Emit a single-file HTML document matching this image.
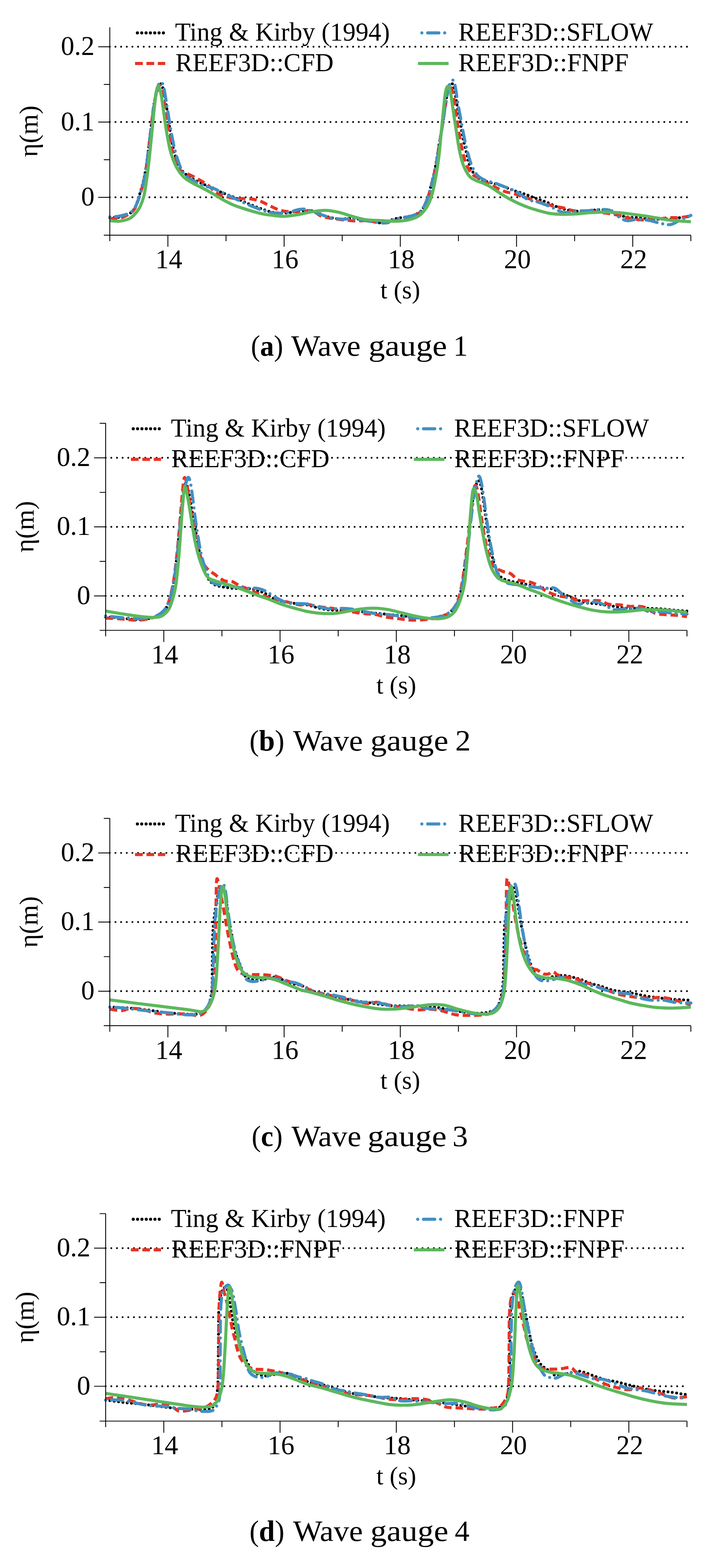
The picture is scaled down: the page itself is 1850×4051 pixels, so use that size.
<!DOCTYPE html><html><head><meta charset="utf-8"><title>Wave gauges</title><style>html,body{margin:0;padding:0;background:#fff}svg{display:block}</style></head><body>
<svg width="1850" height="4051" viewBox="0 0 1850 4051">
<rect width="100%" height="100%" fill="#fff"/>
<g id="plot1">
<line x1="283.7" y1="509.8" x2="1785" y2="509.8" stroke="#000" stroke-width="4.9" stroke-linecap="round" stroke-dasharray="0 14.62"/>
<line x1="283.7" y1="315.3" x2="1785" y2="315.3" stroke="#000" stroke-width="4.9" stroke-linecap="round" stroke-dasharray="0 14.62"/>
<line x1="283.7" y1="120.8" x2="1785" y2="120.8" stroke="#000" stroke-width="4.9" stroke-linecap="round" stroke-dasharray="0 14.62"/>
<path d="M283.7,562.3C287.8,562.1 300.1,562.8 308.5,561.1C316.9,559.5 327.4,556.2 334,552.2C340.6,548.2 344,544.7 348.3,537C352.5,529.4 355.9,517.4 359.5,506.3C363.1,495.2 366.7,482.8 369.7,470.5C372.7,458.2 375,447.2 377.4,432.4C379.7,417.5 381.7,398.4 383.8,381.4C386,364.4 388,347.3 390.1,330.3C392.2,313.3 394.2,294.1 396.4,279.3C398.7,264.5 401,251.6 403.8,241.4C406.6,231.2 410.6,221.3 413.1,218.1C415.6,214.8 416.9,217.4 418.8,221.9C420.8,226.5 422.8,235.7 424.8,245.3C426.8,254.8 428.6,265.2 430.8,279.3C433.1,293.5 435.6,313.3 438.3,330.3C441.1,347.3 443.5,365.3 447.3,381.4C451.2,397.6 456.7,416.1 461.6,427.1C466.5,438.2 470.5,441.6 476.9,447.6C483.3,453.6 491.8,458.4 499.9,463.1C508,467.8 516.9,472 525.4,475.8C533.9,479.6 543.5,482.5 550.9,485.9C558.4,489.2 561.1,492.1 570,496C578.9,499.9 592.7,504.6 604.1,509.4C615.4,514.2 626.7,519.9 638,524.8C649.3,529.6 660.8,534.4 672.1,538.4C683.4,542.4 694.7,546.7 706,548.7C717.4,550.7 728.8,550.8 740.1,550.3C751.4,549.7 762.8,546 774,545.2C785.3,544.4 796.3,542.9 807.7,545.2C819,547.5 830.8,555.4 842.2,558.8C853.6,562.2 864.7,564.7 876,565.6C887.2,566.5 898.4,563.5 909.7,564.1C921.1,564.6 934.3,567.3 944.3,568.9C954.3,570.6 962.5,572.9 969.8,574C977.1,575 979.7,576.6 988.3,575.2C996.9,573.7 1010.8,567.6 1021.4,565C1032.1,562.5 1043.6,561.7 1052.1,560C1060.6,558.3 1066.1,557.7 1072.5,554.7C1078.9,551.7 1084.8,549.7 1090.3,542.1C1095.9,534.4 1101.4,520.8 1105.7,508.8C1109.9,496.9 1112.7,483.3 1115.9,470.5C1119,457.8 1122.2,445.1 1124.7,432.4C1127.3,419.6 1129.1,406.8 1131.2,394.1C1133.3,381.3 1135.4,368.5 1137.5,355.8C1139.6,343 1141.6,332.5 1143.9,317.6C1146.3,302.8 1149.1,281.4 1151.5,266.5C1153.8,251.6 1155.8,236.9 1157.9,228.4C1160.1,219.9 1162.4,217.2 1164.4,215.5C1166.3,213.8 1167.6,213.8 1169.5,218.1C1171.4,222.3 1173.7,230.8 1175.8,241C1177.9,251.2 1179.8,266.5 1182.1,279.3C1184.4,292.1 1187.4,304.9 1189.7,317.6C1192.1,330.4 1193.6,343 1196.2,355.8C1198.7,368.5 1201.9,381.3 1205,394.1C1208.2,406.8 1211,422.2 1215.3,432.4C1219.5,442.6 1224.8,449.6 1230.6,455.3C1236.3,461.1 1242,463.8 1249.9,467C1257.9,470.2 1270.2,472.1 1278.3,474.4C1286.4,476.7 1290.9,478.1 1298.6,480.8C1306.2,483.6 1315.2,487.7 1324.1,490.9C1333,494.1 1343.7,497.1 1352.2,500.1C1360.7,503.1 1368.3,506.3 1375.1,508.8C1382,511.4 1386.8,512.9 1393.2,515.2C1399.6,517.6 1405.9,519.7 1413.6,522.8C1421.2,526 1430.6,531.1 1439.1,534.3C1447.6,537.5 1455.1,540.1 1464.5,542.1C1473.8,544 1484.1,545.8 1495.2,546C1506.4,546.2 1523.3,543.9 1531.3,543.3C1539.3,542.6 1536,541.9 1543.3,541.9C1550.5,541.9 1565.6,541.1 1574.8,543.1C1584.1,545 1591.3,550.8 1598.8,553.8C1606.3,556.7 1611.6,559.6 1619.9,561C1628.1,562.3 1637.2,561.3 1648.4,562.1C1659.5,562.9 1672.4,565 1686.7,565.6C1701,566.2 1722.4,566.2 1734.3,565.6C1746.1,565 1749.5,563.5 1758,562.1C1766.4,560.8 1780.5,558.2 1785,557.5" fill="none" stroke="#000" stroke-width="7.5" stroke-linecap="round" stroke-dasharray="0 11.2"/>
<path d="M283.7,564.3C287.8,564.3 300.1,566.2 308.5,564.3C316.9,562.3 327.4,556.8 334,552.6C340.6,548.4 344,546.1 348.3,539C352.5,531.8 355.9,520.5 359.5,509.8C363.1,499.1 366.7,487.1 369.7,474.8C372.7,462.5 375,450.8 377.4,435.9C379.7,421 381.7,402.5 383.8,385.3C386,368.1 388,350.3 390.1,332.8C392.2,315.3 394.2,295.5 396.4,280.3C398.7,265.1 401.3,251.1 403.8,241.4C406.3,231.7 409.3,224.5 411.3,221.9C413.3,219.3 414.1,221 415.8,225.8C417.6,230.7 419.8,241.1 421.8,251.1C423.8,261.2 425.8,273.2 427.8,286.1C429.8,299.1 431.3,313 433.8,328.9C436.3,344.8 439.1,365.9 442.8,381.4C446.6,397 451.6,411.6 456.3,422.3C461.1,433 466.4,441 471.4,445.6C476.4,450.3 479.9,447.4 486.4,450.1C492.9,452.8 502.1,457.4 510.4,462C518.7,466.5 527.5,471.3 535.9,477.5C544.3,483.7 552.4,494 560.7,499.1C568.9,504.2 577.1,505.7 585.5,508C593.8,510.4 601.7,512.5 611,513.3C620.2,514.1 631.3,512 641,512.9C650.8,513.8 660.4,515.5 669.5,518.6C678.7,521.6 687,526.9 695.8,531C704.6,535.1 713.7,540.2 722.1,542.9C730.5,545.5 736.6,546.1 746.1,546.8C755.6,547.4 768.9,547 779.1,546.8C789.4,546.5 798.9,543.2 807.7,545.2C816.4,547.2 821.7,555.4 831.7,558.8C841.7,562.2 853.9,563.6 867.7,565.6C881.5,567.6 901.5,569.9 914.2,570.7C927,571.4 934.3,569.5 944.3,570.1C954.3,570.6 965.5,573 974.3,574C983.1,575 989,576.6 996.8,575.9C1004.7,575.3 1012.2,572.4 1021.4,570.1C1030.6,567.8 1043.6,564.6 1052.1,562.3C1060.6,560 1066.1,559.7 1072.5,556.5C1078.9,553.2 1084.8,550.6 1090.3,542.9C1095.9,535.1 1101.4,521.5 1105.7,509.8C1109.9,498.1 1112.7,485.2 1115.9,472.8C1119,460.5 1122.2,448.5 1124.7,435.9C1127.3,423.2 1129.1,410 1131.2,397C1133.3,384 1135.4,371.1 1137.5,358.1C1139.6,345.1 1141.6,334.1 1143.9,319.2C1146.3,304.3 1149.1,282.9 1151.5,268.6C1153.8,254.4 1155.9,241.1 1157.9,233.6C1159.9,226.2 1161.5,223.2 1163.5,223.9C1165.4,224.5 1167.5,229.4 1169.5,237.5C1171.5,245.6 1173.5,259.5 1175.5,272.5C1177.5,285.5 1179.2,300.7 1181.5,315.3C1183.7,329.9 1186.2,345.4 1189,360C1191.7,374.6 1194.7,390.8 1198,402.8C1201.2,414.8 1204.5,423.9 1208.5,432C1212.5,440.1 1216.8,446.6 1222,451.5C1227.3,456.3 1232.8,457 1240,461.2C1247.3,465.4 1255,471.2 1265.6,476.7C1276.1,482.2 1292.8,490.4 1303.1,494.2C1313.3,498.1 1319.3,497.8 1327.1,500.1C1334.9,502.3 1338.6,504.3 1349.6,507.9C1360.6,511.4 1380.6,517.6 1393.2,521.5C1405.7,525.4 1414.4,528.6 1424.7,531.2C1434.9,533.8 1444.7,534.8 1454.7,537C1464.7,539.3 1474.7,543.5 1484.7,544.8C1494.7,546.1 1502.3,544 1514.8,544.8C1527.3,545.6 1547.3,548.1 1559.8,549.7C1572.3,551.3 1579.8,552.4 1589.8,554.5C1599.8,556.6 1608.6,560 1619.9,562.3C1631.1,564.6 1644.9,567.5 1657.4,568.1C1669.9,568.8 1682.4,567.2 1694.9,566.2C1707.4,565.2 1722.4,563 1732.5,562.3C1742.5,561.7 1746.2,563 1755,562.3C1763.7,561.7 1780,559.1 1785,558.4" fill="none" stroke="#e93323" stroke-width="8" stroke-dasharray="19.5 10"/>
<path d="M283.7,560.4C287.8,560 300.1,560 308.5,558.4C316.9,556.8 327.4,554.2 334,550.6C340.6,547.1 344,543.8 348.3,537C352.5,530.2 355.9,520.2 359.5,509.8C363.1,499.4 366.7,486.8 369.7,474.8C372.7,462.8 375,452.4 377.4,437.8C379.7,423.2 381.7,404.4 383.8,387.3C386,370.1 388,352.3 390.1,334.8C392.2,317.2 394.2,298.4 396.4,282.2C398.7,266 401.3,248.5 403.8,237.5C406.3,226.5 408.9,220.2 411.3,216.1C413.7,212 416.2,211 418.2,213C420.2,214.9 421.5,219.8 423.3,227.8C425.2,235.7 427.3,248.8 429.3,260.8C431.3,272.8 433.1,285.8 435.3,299.7C437.6,313.7 440.1,329.9 442.8,344.5C445.6,359.1 448.3,373.6 451.8,387.3C455.3,400.9 459.6,415.5 463.9,426.2C468.1,436.9 471.4,444.6 477.4,451.5C483.4,458.3 492.1,462.5 499.9,467C507.6,471.5 515.4,475.4 523.9,478.7C532.4,481.9 543.2,483.7 550.9,486.5C558.6,489.2 561.1,491 570,495.2C578.9,499.4 592.7,506.4 604.1,511.7C615.4,517.1 626.7,522.4 638,527.3C649.3,532.2 660.8,537.2 672.1,540.9C683.4,544.6 694.7,548.2 706,549.7C717.4,551.1 728.8,551.1 740.1,549.7C751.4,548.2 765,542.2 774,540.9C783,539.6 785.8,539.9 794.1,541.9C802.5,543.8 814.2,549.2 824.2,552.6C834.2,556 844.2,560 854.2,562.3C864.2,564.6 875,565.7 884.2,566.2C893.5,566.7 899.7,564.6 909.7,565.2C919.8,565.9 933.5,568.6 944.3,570.1C955,571.6 965.5,573 974.3,574C983.1,575 989,577.2 996.8,575.9C1004.7,574.6 1012.2,568.8 1021.4,566.2C1030.6,563.6 1043.6,562.3 1052.1,560.4C1060.6,558.4 1066.1,557.6 1072.5,554.5C1078.9,551.5 1084.8,549.5 1090.3,542.1C1095.9,534.6 1101.4,521 1105.7,509.8C1109.9,498.6 1112.7,486.5 1115.9,474.8C1119,463.1 1122.2,452.1 1124.7,439.8C1127.3,427.5 1129.1,414.2 1131.2,400.9C1133.3,387.6 1135.4,373.7 1137.5,360C1139.6,346.4 1141.6,334.8 1143.9,319.2C1146.3,303.6 1148.9,281.9 1151.5,266.7C1154,251.4 1156.7,236.9 1159,227.8C1161.2,218.7 1162.8,215.5 1165,212.2C1167.1,208.9 1169.9,205.3 1171.9,207.9C1173.9,210.5 1175.1,218 1177,227.8C1178.8,237.6 1180.7,253.4 1183,266.7C1185.2,280 1188,293.9 1190.5,307.5C1193,321.1 1195.2,334.8 1198,348.4C1200.7,362 1203.5,375.9 1207,389.2C1210.5,402.5 1214.5,417.4 1219,428.1C1223.5,438.8 1228.5,447.2 1234,453.4C1239.5,459.6 1244.7,461.8 1252,465.1C1259.4,468.3 1270.6,470.3 1278.3,472.8C1286.1,475.4 1290.9,477.7 1298.6,480.6C1306.2,483.5 1316.8,487.1 1324.1,490.4C1331.4,493.6 1335.4,495.9 1342.1,500.1C1348.9,504.3 1355.9,511.7 1364.6,515.6C1373.4,519.5 1384.7,520.2 1394.7,523.4C1404.7,526.7 1414.7,530.9 1424.7,535.1C1434.7,539.3 1444.7,546.8 1454.7,548.7C1464.7,550.6 1473.9,547.5 1484.7,546.8C1495.6,546 1510.3,545 1520,544.2C1529.8,543.4 1534.2,542.1 1543.3,541.9C1552.4,541.7 1565.6,540 1574.8,543.1C1584.1,546.1 1591.3,555.9 1598.8,560.4C1606.3,564.9 1611.6,569.1 1619.9,570.1C1628.1,571.1 1638.4,566.2 1648.4,566.2C1658.4,566.2 1669.7,568.2 1679.9,570.1C1690.2,572 1700.9,576.3 1709.9,577.9C1719,579.5 1726.2,581.4 1734.3,579.8C1742.3,578.2 1749.5,572 1758,568.1C1766.4,564.3 1780.5,558.4 1785,556.5" fill="none" stroke="#428fc4" stroke-width="8" stroke-linecap="round" stroke-dasharray="0 15 29 15"/>
<path d="M283.7,570.1C287.8,570.3 300.1,572.3 308.5,571.5C316.9,570.6 327.2,568.2 334,565C340.8,561.8 344.7,557.3 349.3,552.2C353.9,547.1 357.9,542.3 361.8,534.3C365.6,526.3 369.3,516.7 372.3,504C375.3,491.2 377.3,476.2 379.8,457.9C382.3,439.6 384.8,417.4 387.3,394.1C389.8,370.7 392.4,341 394.8,317.6C397.2,294.3 399.4,269.6 401.6,253.8C403.8,238.1 405.7,225.2 408,223.1C410.4,221 413.1,229.5 415.7,241C418.2,252.5 420.8,275 423.3,292C425.8,308.9 427.8,325.9 430.8,342.9C433.8,359.9 437.1,379.2 441.3,394.1C445.6,409 450.6,421.7 456.3,432.4C462.1,443.1 468.1,451.2 475.6,458.3C483,465.3 492.6,469.9 501.1,474.8C509.6,479.7 518.1,483.2 526.6,487.6C535.1,492.1 543.6,496.7 552.1,501.6C560.6,506.5 569.1,512.3 577.7,517C586.2,521.7 594.6,526 603.2,529.6C611.7,533.2 620.5,535.8 629,538.6C637.5,541.4 645.6,544 654.1,546.4C662.5,548.7 671.1,551.1 679.6,552.8C688.1,554.5 696.6,555.4 705.1,556.5C713.6,557.5 723.3,558.8 730.6,559C738,559.2 741.9,558.3 749.1,557.5C756.3,556.6 764.3,555.5 774,553.8C783.8,552 796.3,548.5 807.7,546.8C819,545 830.8,543.1 842.2,543.4C853.6,543.8 864.7,546.1 876,548.7C887.2,551.3 898.4,555.7 909.7,558.8C921.1,561.9 931.2,565.5 944.3,567.4C957.4,569.3 974.5,569.4 988.3,570.1C1002,570.8 1015.1,571.9 1026.5,571.5C1038,571 1047.8,569.9 1057.2,567.6C1066.5,565.2 1075,562.8 1082.7,557.3C1090.3,551.7 1097.6,543.2 1103.1,534.3C1108.6,525.4 1112.1,516.5 1115.9,503.8C1119.7,491 1123,474 1125.9,457.9C1128.9,441.7 1131.4,425.9 1133.7,406.7C1136.1,387.6 1137.9,364.2 1140,342.9C1142.1,321.7 1144.4,297.1 1146.3,279.3C1148.2,261.5 1149.5,245.3 1151.5,235.9C1153.4,226.6 1155.8,222.3 1157.9,223.1C1160.1,223.9 1162,229.5 1164.4,241C1166.7,252.5 1169.3,275 1171.9,292C1174.4,308.9 1177.1,326.7 1179.7,342.9C1182.2,359.1 1184.2,375 1187.2,389C1190.1,403.1 1193.1,416.1 1197.4,427.1C1201.7,438.2 1207.3,448.8 1212.9,455.3C1218.4,461.9 1224.8,463.7 1230.6,466.6C1236.3,469.5 1241.7,470.3 1247.5,472.8C1253.4,475.3 1258.3,477.3 1265.6,481.6C1272.8,485.9 1282.6,493.3 1291.1,498.7C1299.6,504.1 1308.1,509.4 1316.6,514.1C1325.1,518.7 1333.6,522.9 1342.1,526.7C1350.6,530.5 1359.1,533.9 1367.6,536.8C1376.1,539.8 1384.7,542.2 1393.2,544.6C1401.7,547 1410.2,549.5 1418.7,551C1427.2,552.5 1435.7,553.1 1444.2,553.6C1452.7,554 1461.2,553.8 1469.7,553.6C1478.2,553.3 1486.9,552.8 1495.2,552.2C1503.6,551.6 1510,550.4 1520,549.7C1530,549 1543.4,548 1555.3,547.9C1567.2,547.8 1579.4,548.3 1591.3,549.1C1603.3,549.9 1615.1,551.2 1627.1,552.6C1639,554 1651,555.7 1662.9,557.5C1674.9,559.2 1686.8,561.3 1698.7,563.3C1710.6,565.3 1719.9,567.7 1734.3,569.3C1748.6,570.9 1776.5,572.2 1785,572.8" fill="none" stroke="#5cb85c" stroke-width="8" stroke-linejoin="round"/>
<path d="M283.7,70.5 V607.6 H1785" fill="none" stroke="#000" stroke-width="2.2"/>
<path d="M268.2,607.6H283.7M268.2,412.6H283.7M268.2,218.1H283.7M253.7,509.8H283.7M253.7,315.3H283.7M253.7,120.8H283.7M283.7,607.6V623.1M433.8,607.6V637.6M584,607.6V623.1M734.1,607.6V637.6M884.2,607.6V623.1M1034.3,607.6V637.6M1184.5,607.6V623.1M1334.6,607.6V637.6M1484.7,607.6V623.1M1634.9,607.6V637.6M1785,607.6V623.1" fill="none" stroke="#000" stroke-width="2.2"/>
<g font-family="'Liberation Serif', serif" font-size="66.5" fill="#000">
<text x="244.2" y="142" text-anchor="end" font-size="69.5">0.2</text>
<text x="244.2" y="336.5" text-anchor="end" font-size="69.5">0.1</text>
<text x="244.2" y="531" text-anchor="end" font-size="69.5">0</text>
<text x="436.2" y="693.2" text-anchor="middle" font-size="69.5">14</text>
<text x="736.5" y="693.2" text-anchor="middle" font-size="69.5">16</text>
<text x="1036.8" y="693.2" text-anchor="middle" font-size="69.5">18</text>
<text x="1337" y="693.2" text-anchor="middle" font-size="69.5">20</text>
<text x="1637.3" y="693.2" text-anchor="middle" font-size="69.5">22</text>
<text x="1034.3" y="770.8" text-anchor="middle" font-size="65">t (s)</text>
<text transform="translate(97.4,339.1) rotate(-90)" text-anchor="middle" font-size="67.8">η(m)</text>
<line x1="355" y1="85" x2="422.7" y2="85" stroke="#000" stroke-width="8" stroke-linecap="round" stroke-dasharray="0 11.2"/>
<line x1="348.9" y1="164" x2="426.9" y2="164" stroke="#e93323" stroke-width="8" stroke-dasharray="20 9.5"/>
<line x1="1090" y1="85" x2="1150" y2="85" stroke="#428fc4" stroke-width="8" stroke-linecap="round" stroke-dasharray="0 15 29 15"/>
<line x1="1080" y1="164" x2="1159" y2="164" stroke="#5cb85c" stroke-width="8"/>
<text x="452.2" y="105.1" font-size="68" textLength="555.1" lengthAdjust="spacingAndGlyphs">Ting &amp; Kirby (1994)</text>
<text x="453.2" y="183.7" font-size="68" textLength="408.8" lengthAdjust="spacingAndGlyphs">REEF3D::CFD</text>
<text x="1184.3" y="105.1" font-size="68" textLength="503.3" lengthAdjust="spacingAndGlyphs">REEF3D::SFLOW</text>
<text x="1184.3" y="183.7" font-size="68" textLength="440.0" lengthAdjust="spacingAndGlyphs">REEF3D::FNPF</text>
</g>
<text x="648.2" y="918.5" font-family="'Liberation Serif', serif" font-size="77" textLength="83.5" lengthAdjust="spacingAndGlyphs">(<tspan font-weight="bold">a</tspan>)</text>
<text x="752.2" y="918.5" font-family="'Liberation Serif', serif" font-size="77" textLength="179.4" lengthAdjust="spacingAndGlyphs">Wave</text>
<text x="952.2" y="918.5" font-family="'Liberation Serif', serif" font-size="77" textLength="202.9" lengthAdjust="spacingAndGlyphs">gauge</text>
<text x="1171.2" y="918.5" font-family="'Liberation Serif', serif" font-size="77" textLength="37.5" lengthAdjust="spacingAndGlyphs">1</text>
</g>
<g id="plot2">
<line x1="273" y1="1539.6" x2="1775" y2="1539.6" stroke="#000" stroke-width="4.9" stroke-linecap="round" stroke-dasharray="0 14.62"/>
<line x1="273" y1="1361.2" x2="1775" y2="1361.2" stroke="#000" stroke-width="4.9" stroke-linecap="round" stroke-dasharray="0 14.62"/>
<line x1="273" y1="1182.8" x2="1775" y2="1182.8" stroke="#000" stroke-width="4.9" stroke-linecap="round" stroke-dasharray="0 14.62"/>
<path d="M273,1594C278.7,1594.4 292.8,1595 306.9,1596.2C321.1,1597.3 343.9,1601 358,1601C372.1,1601 382,1598.7 391.7,1596.2C401.3,1593.6 408.8,1591.1 415.7,1585.6C422.5,1580.2 427.7,1575.1 432.8,1563.5C437.9,1551.9 442.8,1533.4 446.5,1515.9C450.1,1498.3 452.2,1479 454.7,1458.1C457.3,1437.1 459.5,1412.8 461.8,1390.1C464.1,1367.4 466,1343.5 468.3,1322C470.5,1300.4 473,1272.7 475.3,1260.8C477.6,1248.9 479.7,1246 482.2,1250.6C484.8,1255.1 487.8,1273.3 490.6,1288.1C493.5,1302.8 496.4,1323.2 499.2,1339.1C502,1355 504.5,1366.9 507.6,1383.3C510.7,1399.8 513.8,1421.3 517.8,1437.7C521.8,1454.2 525.8,1470.1 531.5,1482C537.2,1493.9 541.2,1502.9 551.9,1509.1C562.7,1515.3 580.2,1517.3 596.1,1519.3C611.9,1521.3 636.3,1520.2 647,1521C657.7,1521.9 653.9,1522.3 660.1,1524.3C666.2,1526.2 675.3,1528.7 683.8,1532.6C692.3,1536.6 700.9,1544 711.1,1548C721.3,1552 734.9,1554.6 745.1,1556.5C755.3,1558.5 763.8,1558.8 772.3,1559.9C780.8,1561.1 788.2,1561.6 796.1,1563.3C804.1,1565 811.2,1568.1 819.7,1570.1C828.2,1572.1 838.1,1574.2 847.1,1575.3C856.1,1576.4 864.2,1576.6 873.8,1576.9C883.4,1577.2 895.1,1576.3 904.9,1576.9C914.7,1577.5 922.2,1579.1 932.4,1580.3C942.6,1581.4 954.9,1582.5 966.2,1583.7C977.4,1584.8 988.6,1585.9 1000,1587.1C1011.4,1588.2 1024.5,1589.4 1034.5,1590.4C1044.5,1591.5 1048.8,1591.9 1060,1593.1C1071.3,1594.3 1089.4,1597.7 1102.1,1597.6C1114.8,1597.5 1127,1594.4 1136,1592.4C1145.1,1590.4 1149.9,1589.3 1156.2,1585.6C1162.4,1581.9 1168.3,1577.4 1173.4,1570.3C1178.6,1563.2 1183,1556.2 1187,1543.2C1190.9,1530.1 1194.3,1509.2 1197.2,1492.1C1200,1475.1 1201.8,1458.1 1204.1,1441.1C1206.4,1424.1 1208.6,1408.8 1210.8,1390.1C1213.1,1371.4 1215.3,1348.6 1217.6,1328.7C1219.9,1308.9 1221.7,1285.1 1224.5,1270.9C1227.4,1256.8 1231.9,1247.2 1234.7,1243.8C1237.6,1240.4 1239.2,1243.2 1241.5,1250.6C1243.7,1258 1246,1273.9 1248.2,1288.1C1250.5,1302.2 1252.7,1319.6 1255,1335.5C1257.3,1351.4 1259.4,1367.4 1261.9,1383.3C1264.5,1399.2 1266.9,1416.2 1270.3,1431C1273.7,1445.7 1278.1,1461.4 1282.3,1471.6C1286.6,1481.8 1289.1,1487 1295.9,1492.1C1302.6,1497.3 1312.7,1499.5 1322.9,1502.3C1333.1,1505.1 1346,1506.6 1357.1,1509.1C1368.3,1511.6 1378.9,1515.5 1390,1517.5C1401.2,1519.4 1415.5,1519.2 1424,1520.9C1432.5,1522.6 1435.4,1525.1 1441.1,1527.6C1446.8,1530.2 1450.7,1532.9 1458.1,1536C1465.4,1539.2 1476.8,1543 1485.3,1546.4C1493.8,1549.8 1499.5,1554.3 1509.1,1556.5C1518.8,1558.8 1534,1558.8 1543.1,1559.9C1552.2,1561.1 1556.2,1562.2 1563.5,1563.3C1570.9,1564.5 1578.2,1565.4 1587.2,1566.7C1596.3,1568 1608.3,1570.3 1617.9,1571.2C1627.5,1572 1634.9,1571.6 1645.1,1571.7C1655.2,1571.8 1667.5,1571.4 1678.9,1571.7C1690.2,1572 1701.7,1572.6 1713.1,1573.5C1724.5,1574.4 1736.9,1576 1747.2,1576.9C1757.5,1577.8 1770.4,1578.5 1775,1578.8" fill="none" stroke="#000" stroke-width="7.5" stroke-linecap="round" stroke-dasharray="0 11.2"/>
<path d="M273,1596.7C278.7,1597 292.8,1597.6 306.9,1598.5C321.1,1599.4 343.9,1602.3 358,1602C372.1,1601.7 382,1599.4 391.7,1596.7C401.3,1594 408.8,1591.6 415.7,1586C422.5,1580.3 427.7,1575 432.8,1562.8C437.9,1550.6 442.8,1531 446.5,1512.8C450.1,1494.7 452.2,1475.4 454.7,1454C457.3,1432.6 459.5,1408.8 461.8,1384.4C464.1,1360 466.2,1330.9 468.3,1307.7C470.3,1284.5 472.6,1257.4 474.3,1245.2C475.9,1233 476.5,1233 478,1234.5C479.5,1236 481.4,1244.3 483.3,1254.2C485.2,1264 487,1278.5 489.3,1293.4C491.5,1308.3 494,1327 496.8,1343.4C499.6,1359.7 502.6,1376.7 505.8,1391.5C509.1,1406.4 512.1,1420.4 516.3,1432.6C520.6,1444.8 524.8,1456 531.3,1464.7C537.9,1473.3 547.4,1478.3 555.4,1484.3C563.4,1490.2 572.1,1497.4 579.4,1500.4C586.7,1503.3 592.4,1500.1 598.9,1502.1C605.4,1504.2 611.5,1509.6 618.5,1512.8C625.5,1516.1 634.1,1518.8 641,1521.8C647.9,1524.7 651.3,1527.1 660.1,1530.7C668.8,1534.2 683,1539.9 693.6,1543.2C704.1,1546.4 714.1,1547.9 723.6,1550.3C733.1,1552.7 741.9,1555.4 750.6,1557.4C759.4,1559.5 769.4,1562.2 776.2,1562.8C782.9,1563.4 782.4,1560.1 791.2,1561C800,1561.9 817.5,1566.4 828.7,1568.1C840,1569.9 848.8,1570.2 858.8,1571.7C868.8,1573.2 878.8,1575.3 888.8,1577.1C898.8,1578.8 908.8,1580.9 918.9,1582.4C928.9,1583.9 940.1,1585.1 948.9,1586C957.7,1586.9 962.7,1586.3 971.4,1587.8C980.2,1589.3 991.5,1593.1 1001.5,1594.9C1011.5,1596.7 1021.7,1597.3 1031.5,1598.5C1041.3,1599.7 1048.3,1601.7 1060,1602C1071.8,1602.3 1089.4,1601.4 1102.1,1600.3C1114.8,1599.1 1127,1597.3 1136,1594.9C1145.1,1592.5 1149.9,1590.1 1156.2,1586C1162.4,1581.8 1168.3,1577.7 1173.4,1569.9C1178.6,1562.2 1183,1553.6 1187,1539.6C1190.9,1525.6 1194.3,1503.9 1197.2,1486.1C1200,1468.2 1201.8,1450.4 1204.1,1432.6C1206.4,1414.7 1208.6,1398.4 1210.8,1379C1213.1,1359.7 1215.5,1335 1217.6,1316.6C1219.8,1298.2 1222.1,1278.8 1223.8,1268.4C1225.5,1258 1226.3,1255.1 1227.8,1254.2C1229.3,1253.3 1231,1255.6 1232.8,1263.1C1234.6,1270.5 1236.8,1285.4 1238.8,1298.8C1240.8,1312.1 1242.5,1328.5 1244.8,1343.4C1247,1358.2 1249.6,1374 1252.3,1388C1255.1,1401.9 1258.1,1415.9 1261.3,1427.2C1264.6,1438.5 1268.3,1448.9 1271.8,1455.8C1275.3,1462.6 1277.3,1464.7 1282.3,1468.2C1287.4,1471.8 1295.6,1474.8 1301.9,1477.2C1308.1,1479.5 1313.6,1478.9 1319.9,1482.5C1326.2,1486.1 1331.2,1495 1339.4,1498.6C1347.7,1502.1 1361,1501.5 1369.5,1503.9C1377.9,1506.3 1382.5,1508.7 1390,1512.8C1397.5,1517 1405.4,1524.4 1414.5,1528.9C1423.6,1533.4 1434.5,1537.2 1444.6,1539.6C1454.6,1542 1467.1,1541.4 1474.6,1543.2C1482.1,1545 1482.1,1548.8 1489.6,1550.3C1497.1,1551.8 1509.6,1551.8 1519.7,1552.1C1529.7,1552.4 1540.9,1550.6 1549.7,1552.1C1558.5,1553.6 1563.5,1559.2 1572.2,1561C1581,1562.8 1593.5,1561.9 1602.3,1562.8C1611,1563.7 1614.8,1565.5 1624.8,1566.4C1634.8,1567.3 1651.1,1565.2 1662.3,1568.1C1673.6,1571.1 1683.1,1580.9 1692.4,1584.2C1701.7,1587.5 1708.7,1586.9 1717.9,1587.8C1727.2,1588.7 1738.5,1588.7 1748,1589.6C1757.5,1590.4 1770.5,1592.5 1775,1593.1" fill="none" stroke="#e93323" stroke-width="8" stroke-dasharray="19.5 10"/>
<path d="M273,1591.3C278.7,1591.9 292.8,1593.7 306.9,1594.9C321.1,1596.1 343.9,1598.5 358,1598.5C372.1,1598.5 382,1597.3 391.7,1594.9C401.3,1592.5 408.8,1589.6 415.7,1584.2C422.5,1578.8 427.7,1573.8 432.8,1562.8C437.9,1551.8 442.8,1534.8 446.5,1518.2C450.1,1501.5 452.2,1483.1 454.7,1462.9C457.3,1442.7 459.5,1419.2 461.8,1396.9C464.1,1374.6 465.9,1350.5 468.3,1329.1C470.6,1307.7 473.3,1283.3 475.8,1268.4C478.3,1253.6 481.4,1245.7 483.3,1239.9C485.2,1234.1 485.8,1232.2 487.3,1233.6C488.8,1235.1 490.5,1239.4 492.3,1248.8C494.1,1258.2 496.3,1275 498.3,1289.8C500.3,1304.7 502.1,1321.7 504.3,1338C506.6,1354.4 509.1,1371.6 511.8,1388C514.6,1404.3 517.3,1421.6 520.8,1436.1C524.3,1450.7 528.8,1464.7 532.8,1475.4C536.9,1486.1 540.6,1494.7 544.9,1500.4C549.1,1506 552.6,1507.2 558.4,1509.3C564.1,1511.4 571.9,1511.7 579.4,1512.8C586.9,1514 592.2,1515.2 603.4,1516.4C614.7,1517.6 637,1519.4 647,1520C657,1520.6 657,1518.8 663.5,1520C670,1521.2 677.5,1522.9 686,1527.1C694.6,1531.3 705.3,1539.9 714.6,1545C723.9,1550 733.1,1555.1 741.6,1557.4C750.1,1559.8 756.1,1558.6 765.7,1559.2C775.2,1559.8 789.2,1559.5 798.7,1561C808.2,1562.5 813.5,1566.1 822.7,1568.1C832,1570.2 845,1572.9 854.3,1573.5C863.5,1574.1 869.3,1571.7 878.3,1571.7C887.3,1571.7 899.1,1572.3 908.3,1573.5C917.6,1574.7 924.6,1577.1 933.9,1578.8C943.1,1580.6 952.7,1582.7 963.9,1584.2C975.2,1585.7 990.2,1586.6 1001.5,1587.8C1012.7,1589 1021.7,1590.1 1031.5,1591.3C1041.3,1592.5 1048.3,1594 1060,1594.9C1071.8,1595.8 1089.4,1597 1102.1,1596.7C1114.8,1596.4 1127,1594.9 1136,1593.1C1145.1,1591.3 1149.9,1589.8 1156.2,1586C1162.4,1582.1 1168.3,1576.8 1173.4,1569.9C1178.6,1563.1 1183,1557.1 1187,1545C1190.9,1532.8 1194.3,1513.1 1197.2,1496.8C1200,1480.4 1201.8,1463.5 1204.1,1446.8C1206.4,1430.2 1208.6,1415.3 1210.8,1396.9C1213.1,1378.4 1215.2,1356.4 1217.6,1336.2C1220,1316 1222.7,1291.6 1225.3,1275.6C1227.8,1259.5 1230.7,1247.4 1232.8,1239.9C1234.9,1232.3 1236.3,1229.4 1238,1230.3C1239.8,1231.1 1241.4,1236.8 1243.3,1245.2C1245.2,1253.7 1247.3,1267.5 1249.3,1280.9C1251.3,1294.3 1253.1,1309.2 1255.3,1325.5C1257.6,1341.9 1260.1,1361.8 1262.8,1379C1265.6,1396.3 1268.6,1413.5 1271.8,1429C1275.1,1444.5 1278.6,1460.5 1282.3,1471.8C1286.1,1483.1 1289.9,1491.1 1294.4,1496.8C1298.9,1502.4 1304.4,1503.6 1309.4,1505.7C1314.4,1507.8 1316.9,1508.1 1324.4,1509.3C1331.9,1510.5 1343.5,1511.4 1354.4,1512.8C1365.4,1514.3 1380,1517 1390,1518.2C1400.1,1519.4 1407.2,1519.7 1414.5,1520C1421.9,1520.3 1426.8,1516.7 1434,1520C1441.3,1523.2 1449.6,1533.4 1458.1,1539.6C1466.6,1545.8 1478.6,1553.9 1485.1,1557.4C1491.6,1561 1492.6,1561 1497.1,1561C1501.6,1561 1504.6,1558.3 1512.1,1557.4C1519.7,1556.5 1533.4,1554.5 1542.2,1555.7C1551,1556.8 1557.2,1561.3 1564.7,1564.6C1572.2,1567.8 1577.7,1574.1 1587.2,1575.3C1596.8,1576.5 1610.5,1572.3 1621.8,1571.7C1633.1,1571.1 1645.3,1570.2 1654.8,1571.7C1664.4,1573.2 1669.1,1579.1 1678.9,1580.6C1688.6,1582.1 1703.7,1580 1713.4,1580.6C1723.2,1581.2 1727.2,1583.3 1737.4,1584.2C1747.7,1585.1 1768.7,1585.7 1775,1586" fill="none" stroke="#428fc4" stroke-width="8" stroke-linecap="round" stroke-dasharray="0 15 29 15"/>
<path d="M273,1578.8C281.5,1580.2 307,1584.7 324.1,1587.2C341.1,1589.8 362.1,1592.7 375.1,1594C388.2,1595.3 394.8,1595.5 402.2,1594.9C409.5,1594.3 413.6,1594.2 419.3,1590.6C425,1587.1 431.7,1581 436.3,1573.7C440.8,1566.3 443.4,1557.3 446.5,1546.6C449.6,1535.8 452.2,1526.7 454.7,1509.1C457.3,1491.5 459.8,1463.8 461.8,1441.1C463.8,1418.5 465.1,1395.8 466.8,1373.2C468.5,1350.5 470.3,1324.3 472,1305C473.7,1285.7 474.9,1260.2 477.1,1257.4C479.4,1254.5 482.7,1274.4 485.5,1288.1C488.4,1301.7 491,1320.4 494.1,1339.1C497.2,1357.8 500.4,1381.6 504.3,1400.3C508.3,1419 512.7,1436.5 517.8,1451.3C522.9,1466 528.7,1480.5 534.9,1488.8C541.2,1497 545.2,1496.6 555.4,1500.5C565.6,1504.5 583.6,1508.5 596.1,1512.5C608.5,1516.5 619.5,1520.5 630.2,1524.4C640.8,1528.4 649.4,1532.1 660.1,1536C670.7,1540 682.7,1543.7 694,1548C705.4,1552.2 716.8,1557.6 728.1,1561.5C739.4,1565.5 750.7,1568.6 762.1,1571.7C773.4,1574.8 784.8,1578.1 796.1,1580.3C807.5,1582.4 818.9,1584 830.2,1584.7C841.6,1585.5 852.9,1585.6 864.2,1584.7C875.5,1583.8 886.8,1581.3 898.1,1579.4C909.5,1577.5 921,1574.9 932.4,1573.5C943.7,1572.1 954.9,1571 966.2,1571.2C977.4,1571.3 988.7,1572.5 1000,1574.4C1011.3,1576.2 1022.6,1579.5 1033.9,1582.2C1045.3,1584.9 1056.6,1588.2 1068,1590.6C1079.4,1593.1 1090.8,1595.6 1102.1,1596.9C1113.4,1598.1 1126.4,1599 1136,1598.3C1145.7,1597.6 1153,1595.9 1159.8,1592.4C1166.6,1588.9 1171.8,1584.7 1176.9,1577.1C1182,1569.4 1186.5,1558.5 1190.4,1546.6C1194.4,1534.7 1197.8,1523.3 1200.6,1505.7C1203.4,1488.1 1205.3,1463.2 1207.2,1441.1C1209.2,1419 1210.8,1395.8 1212.5,1373.2C1214.2,1350.5 1215.9,1323.2 1217.6,1305C1219.3,1286.8 1220.4,1268.7 1222.7,1264.2C1225,1259.6 1228.7,1268.1 1231.3,1277.7C1233.8,1287.3 1235.5,1306 1238,1322C1240.6,1337.9 1243.5,1356.1 1246.6,1373.2C1249.7,1390.2 1253.1,1408.7 1256.8,1424C1260.5,1439.3 1263.9,1453.5 1268.7,1464.9C1273.5,1476.2 1279.4,1485.9 1285.6,1492.1C1291.9,1498.4 1298.1,1499.5 1306.1,1502.3C1314,1505.1 1323.2,1505.7 1333.4,1509.1C1343.6,1512.5 1357.9,1519 1367.4,1522.7C1376.8,1526.3 1380.6,1527.4 1390,1531C1399.5,1534.7 1412.6,1540.3 1424,1544.6C1435.3,1548.8 1446.7,1552.9 1458.1,1556.5C1469.4,1560.2 1480.7,1563.6 1492,1566.7C1503.4,1569.8 1514.8,1573 1526.1,1575.3C1537.5,1577.5 1548.9,1579.3 1560.2,1580.3C1571.6,1581.3 1582.8,1581.4 1594.2,1581.2C1605.5,1580.9 1616.8,1579.7 1628.1,1578.7C1639.4,1577.7 1650.9,1575.8 1662.2,1575.3C1673.5,1574.7 1684.8,1575 1696.1,1575.3C1707.5,1575.5 1717.1,1575.8 1730.2,1576.9C1743.4,1578 1767.5,1581.2 1775,1582.1" fill="none" stroke="#5cb85c" stroke-width="8" stroke-linejoin="round"/>
<path d="M273,1093.3 V1628.5 H1775" fill="none" stroke="#000" stroke-width="2.2"/>
<path d="M257.5,1628.5H273M257.5,1450.4H273M257.5,1272H273M257.5,1093.6H273M243,1539.6H273M243,1361.2H273M243,1182.8H273M273,1628.5V1644M423.2,1628.5V1658.5M573.4,1628.5V1644M723.6,1628.5V1658.5M873.8,1628.5V1644M1024,1628.5V1658.5M1174.2,1628.5V1644M1324.4,1628.5V1658.5M1474.6,1628.5V1644M1624.8,1628.5V1658.5M1775,1628.5V1644" fill="none" stroke="#000" stroke-width="2.2"/>
<g font-family="'Liberation Serif', serif" font-size="66.5" fill="#000">
<text x="233.5" y="1204" text-anchor="end" font-size="69.5">0.2</text>
<text x="233.5" y="1382.4" text-anchor="end" font-size="69.5">0.1</text>
<text x="233.5" y="1560.8" text-anchor="end" font-size="69.5">0</text>
<text x="425.6" y="1714.1" text-anchor="middle" font-size="69.5">14</text>
<text x="726" y="1714.1" text-anchor="middle" font-size="69.5">16</text>
<text x="1026.4" y="1714.1" text-anchor="middle" font-size="69.5">18</text>
<text x="1326.8" y="1714.1" text-anchor="middle" font-size="69.5">20</text>
<text x="1627.2" y="1714.1" text-anchor="middle" font-size="69.5">22</text>
<text x="1024" y="1791.7" text-anchor="middle" font-size="65">t (s)</text>
<text transform="translate(86.7,1360.9) rotate(-90)" text-anchor="middle" font-size="67.8">η(m)</text>
<line x1="344.3" y1="1107.8" x2="412" y2="1107.8" stroke="#000" stroke-width="8" stroke-linecap="round" stroke-dasharray="0 11.2"/>
<line x1="338.2" y1="1186.8" x2="416.2" y2="1186.8" stroke="#e93323" stroke-width="8" stroke-dasharray="20 9.5"/>
<line x1="1079.3" y1="1107.8" x2="1139.3" y2="1107.8" stroke="#428fc4" stroke-width="8" stroke-linecap="round" stroke-dasharray="0 15 29 15"/>
<line x1="1069.3" y1="1186.8" x2="1148.3" y2="1186.8" stroke="#5cb85c" stroke-width="8"/>
<text x="441.5" y="1127.9" font-size="68" textLength="555.1" lengthAdjust="spacingAndGlyphs">Ting &amp; Kirby (1994)</text>
<text x="442.5" y="1206.5" font-size="68" textLength="408.8" lengthAdjust="spacingAndGlyphs">REEF3D::CFD</text>
<text x="1173.6" y="1127.9" font-size="68" textLength="503.3" lengthAdjust="spacingAndGlyphs">REEF3D::SFLOW</text>
<text x="1173.6" y="1206.5" font-size="68" textLength="440.0" lengthAdjust="spacingAndGlyphs">REEF3D::FNPF</text>
</g>
<text x="644.4" y="1939" font-family="'Liberation Serif', serif" font-size="77" textLength="90.4" lengthAdjust="spacingAndGlyphs">(<tspan font-weight="bold">b</tspan>)</text>
<text x="757.2" y="1939" font-family="'Liberation Serif', serif" font-size="77" textLength="180.3" lengthAdjust="spacingAndGlyphs">Wave</text>
<text x="956.9" y="1939" font-family="'Liberation Serif', serif" font-size="77" textLength="201.7" lengthAdjust="spacingAndGlyphs">gauge</text>
<text x="1176.2" y="1939" font-family="'Liberation Serif', serif" font-size="77" textLength="39.9" lengthAdjust="spacingAndGlyphs">2</text>
</g>
<g id="plot3">
<line x1="283.7" y1="2560.8" x2="1785" y2="2560.8" stroke="#000" stroke-width="4.9" stroke-linecap="round" stroke-dasharray="0 14.62"/>
<line x1="283.7" y1="2382.2" x2="1785" y2="2382.2" stroke="#000" stroke-width="4.9" stroke-linecap="round" stroke-dasharray="0 14.62"/>
<line x1="283.7" y1="2203.6" x2="1785" y2="2203.6" stroke="#000" stroke-width="4.9" stroke-linecap="round" stroke-dasharray="0 14.62"/>
<path d="M283.7,2602.1C290.5,2602.3 308.5,2602.5 324.2,2603.7C340,2604.8 361.3,2606.8 378.3,2608.8C395.3,2610.8 411.6,2613.9 426.3,2615.6C441,2617.3 454.2,2618.2 466.6,2619C478.9,2619.9 491.6,2621.1 500.6,2620.6C509.7,2620.2 514.6,2620.1 520.9,2616.2C527.2,2612.2 533.9,2606.6 538.3,2597.1C542.7,2587.5 545.5,2576 547.2,2559C548.9,2542 548.1,2518.5 548.5,2495.1C549,2471.7 549.1,2437.7 549.7,2418.6C550.4,2399.5 551,2393.2 552.3,2380.4C553.6,2367.6 555.5,2353.9 557.4,2342C559.3,2330.1 561.1,2317.5 563.8,2309C566.6,2300.5 571.1,2291.4 574.1,2290.9C577,2290.5 579.2,2294.4 581.7,2306.3C584.3,2318.2 586.8,2345.8 589.4,2362.4C591.9,2379 594,2390 597,2405.8C600,2421.5 603.8,2443.7 607.2,2456.9C610.6,2470 613.2,2474.3 617.4,2484.9C621.7,2495.5 627.6,2513 632.8,2520.6C637.9,2528.3 640.4,2529.1 648.1,2530.8C655.7,2532.5 669.2,2531.9 678.5,2530.8C687.9,2529.7 695.6,2524.4 704.1,2524.4C712.6,2524.4 721.1,2528 729.6,2530.8C738.1,2533.6 746.6,2538.3 755.1,2541C763.6,2543.7 770.8,2543.2 780.6,2546.9C790.5,2550.5 802.9,2558.8 814.1,2562.9C825.3,2567.1 836.7,2569 848,2571.5C859.4,2574.1 870.8,2576 882.1,2578.3C893.5,2580.6 904.7,2583.1 916,2585.1C927.4,2587.1 938.8,2588.4 950.1,2590.1C961.5,2591.8 972.7,2593.8 984.1,2595.3C995.4,2596.7 1006.8,2598.1 1018.1,2598.7C1029.5,2599.2 1040.7,2598.4 1052.1,2598.7C1063.4,2598.9 1074.8,2599.5 1086.1,2600.1C1097.5,2600.7 1108.9,2600.9 1120.2,2602.1C1131.6,2603.2 1140.7,2604.9 1154.2,2607.1C1167.6,2609.2 1186.8,2613.2 1201,2614.9C1215.2,2616.7 1227.8,2618 1239.3,2617.6C1250.8,2617.2 1262,2615.8 1270.1,2612.4C1278.1,2609 1282.9,2608.1 1287.8,2597.1C1292.6,2586 1296.9,2567.4 1299.2,2546.2C1301.5,2524.9 1301.1,2493.3 1301.7,2469.5C1302.4,2445.7 1302.2,2420.3 1303.1,2403.3C1303.9,2386.3 1305.1,2380.6 1306.8,2367.6C1308.5,2354.5 1310.5,2337.8 1313.3,2325C1316,2312.3 1320.4,2295.4 1323.4,2290.9C1326.3,2286.5 1328.5,2289.7 1331,2298.3C1333.6,2306.8 1336.1,2327.1 1338.7,2342C1341.2,2357 1343.7,2373.9 1346.3,2387.9C1348.9,2401.9 1351.6,2414.2 1354.1,2426.1C1356.7,2438 1359.1,2449.6 1361.6,2459.4C1364.1,2469.1 1366.1,2476.4 1369.1,2484.9C1372.1,2493.4 1375.4,2503.2 1379.6,2510.4C1383.9,2517.7 1388.4,2525.7 1394.7,2528.3C1400.9,2530.9 1410.2,2527.1 1417.2,2526C1424.2,2524.8 1429.8,2522.4 1436.7,2521.5C1443.6,2520.6 1449.2,2519.3 1458.8,2520.4C1468.4,2521.6 1483.6,2525.3 1494.3,2528.5C1505.1,2531.7 1513.8,2536.5 1523.5,2539.7C1533.2,2543 1542.9,2545 1552.6,2547.9C1562.3,2550.9 1571.9,2555.2 1581.6,2557.6C1591.3,2560 1601,2560.8 1610.7,2562.4C1620.4,2564 1631.2,2565.6 1639.8,2567.2C1648.4,2568.8 1653.2,2570.4 1662.3,2572.1C1671.5,2573.7 1684,2575.4 1694.8,2576.9C1705.6,2578.3 1716.3,2579.8 1727,2580.8C1737.8,2581.8 1749.7,2582.2 1759.3,2582.8C1769,2583.3 1780.7,2583.8 1785,2584" fill="none" stroke="#000" stroke-width="7.5" stroke-linecap="round" stroke-dasharray="0 11.2"/>
<path d="M283.7,2607.2C288.7,2607.8 305,2611.1 313.7,2610.8C322.5,2610.5 327.5,2606 336.2,2605.5C345,2604.9 356.3,2605.5 366.3,2607.2C376.3,2609 386.3,2614.1 396.3,2616.2C406.3,2618.2 416.3,2619.1 426.3,2619.7C436.3,2620.3 447.6,2619.7 456.3,2619.7C465.1,2619.7 470.1,2619.1 478.9,2619.7C487.6,2620.3 501.4,2623.3 508.9,2623.3C516.4,2623.3 518.9,2623.3 523.9,2619.7C528.9,2616.2 534.4,2610.2 538.9,2601.9C543.4,2593.5 548.2,2585.5 550.9,2569.7C553.7,2554 554.4,2532.5 555.4,2507.2C556.4,2481.9 556.4,2447.7 556.9,2417.9C557.4,2388.2 557.9,2352.7 558.4,2328.6C558.9,2304.5 558.9,2281.3 559.9,2273.3C560.9,2265.2 562.7,2274.1 564.4,2280.4C566.2,2286.6 568.4,2300.5 570.4,2310.8C572.5,2321 574.1,2328.3 576.6,2342C579.1,2355.7 582.3,2375.8 585.5,2392.9C588.6,2410 592.5,2429.8 595.7,2444.7C598.9,2459.6 601.5,2471.8 604.7,2482.2C607.9,2492.6 610.8,2501.6 614.9,2507.2C618.9,2512.9 622.9,2514.4 629,2516.2C635.1,2517.9 644,2517.6 651.5,2517.9C659,2518.2 666.5,2517.6 674,2517.9C681.5,2518.2 689.6,2518.8 696.6,2519.7C703.6,2520.6 708.6,2520.9 716.1,2523.3C723.6,2525.7 732.3,2530.7 741.6,2534C750.9,2537.3 764.1,2540.3 771.6,2542.9C779.1,2545.6 780.4,2547.1 786.6,2550.1C792.9,2553.1 799.4,2557.5 809.2,2560.8C818.9,2564.1 833.2,2566.8 845.2,2569.7C857.2,2572.7 869.2,2576 881.2,2578.7C893.2,2581.3 905.5,2583.4 917.2,2585.8C929,2588.2 942.3,2592.4 951.8,2592.9C961.3,2593.5 965.5,2588.8 974.3,2589.4C983.1,2590 994.3,2594.4 1004.3,2596.5C1014.3,2598.6 1021.8,2599.8 1034.3,2601.9C1046.9,2604 1066.9,2608.1 1079.4,2609C1091.9,2609.9 1099.4,2606.9 1109.4,2607.2C1119.4,2607.5 1128.2,2608.4 1139.4,2610.8C1150.7,2613.2 1164.5,2619.4 1177,2621.5C1189.5,2623.6 1202,2623.3 1214.5,2623.3C1227,2623.3 1242,2623 1252,2621.5C1262,2620 1268.3,2618.5 1274.6,2614.4C1280.8,2610.2 1285.3,2605.4 1289.6,2596.5C1293.8,2587.6 1297.6,2578.7 1300.1,2560.8C1302.6,2542.9 1303.3,2519.1 1304.6,2489.4C1305.8,2459.6 1306.8,2417.8 1307.6,2382.2C1308.4,2346.6 1308.1,2292.1 1309.4,2275.8C1310.6,2259.4 1313.1,2278.1 1315.1,2284C1317,2289.8 1319.1,2300.3 1321.1,2310.8C1323.1,2321.2 1325.1,2334.6 1327.1,2346.5C1329.1,2358.4 1330.9,2370.3 1333.1,2382.2C1335.4,2394.1 1337.9,2406.6 1340.6,2417.9C1343.4,2429.2 1346.9,2441.1 1349.6,2450.1C1352.4,2459 1354.6,2465.5 1357.1,2471.5C1359.6,2477.5 1360.9,2480.4 1364.6,2485.8C1368.4,2491.1 1375.9,2500.4 1379.6,2503.6C1383.4,2506.9 1382.9,2503.4 1387.2,2505.4C1391.4,2507.5 1400.2,2514.4 1405.2,2516.2C1410.2,2517.9 1413.2,2517 1417.2,2516.2C1421.2,2515.3 1425.4,2510.5 1429.2,2510.8C1432.9,2511.1 1435.4,2515.9 1439.7,2517.9C1444,2520 1448,2521.8 1454.7,2523.3C1461.5,2524.8 1471.5,2524.8 1480.2,2526.9C1489,2528.9 1497.8,2532.5 1507.3,2535.8C1516.8,2539.1 1527.3,2542.9 1537.3,2546.5C1547.3,2550.1 1558.6,2554 1567.3,2557.2C1576.1,2560.5 1581.1,2563.5 1589.8,2566.2C1598.6,2568.8 1609.8,2571.5 1619.9,2573.3C1629.9,2575.1 1639.9,2576 1649.9,2576.9C1659.9,2577.8 1670.4,2578.7 1679.9,2578.7C1689.4,2578.7 1698.2,2576.6 1706.9,2576.9C1715.7,2577.2 1723.2,2578.4 1732.5,2580.4C1741.7,2582.5 1753.7,2586.7 1762.5,2589.4C1771.2,2592.1 1781.2,2595.3 1785,2596.5" fill="none" stroke="#e93323" stroke-width="8" stroke-dasharray="19.5 10"/>
<path d="M283.7,2601.9C288.7,2602.2 301.2,2602.5 313.7,2603.7C326.2,2604.9 342.5,2607.2 358.8,2609C375,2610.8 396.3,2612.9 411.3,2614.4C426.3,2615.9 437.6,2616.8 448.8,2618C460.1,2619.1 470.1,2620.9 478.9,2621.5C487.6,2622.1 494.4,2622.4 501.4,2621.5C508.4,2620.6 514.6,2620.3 520.9,2616.2C527.2,2612 534.4,2605.7 538.9,2596.5C543.4,2587.3 545.9,2578.7 547.9,2560.8C549.9,2542.9 549.9,2516.2 550.9,2489.4C551.9,2462.6 552.9,2420.9 553.9,2400.1C554.9,2379.2 555.7,2376.2 556.9,2364.3C558.2,2352.4 559.4,2339.9 561.4,2328.6C563.4,2317.3 566.4,2304 568.9,2296.5C571.5,2288.9 574.4,2282.5 576.6,2283.4C578.9,2284.3 580.7,2292.8 582.5,2301.8C584.2,2310.8 585.2,2324.2 587,2337.6C588.7,2350.9 590.7,2367.3 593,2382.2C595.2,2397.1 597.7,2413.5 600.5,2426.9C603.2,2440.2 606.7,2452.7 609.5,2462.6C612.2,2472.4 614.2,2477.8 617,2485.8C619.7,2493.8 623,2503.6 626,2510.8C629,2517.9 630.8,2524.5 635,2528.7C639.3,2532.8 645,2535.1 651.5,2535.8C658,2536.5 666.5,2534.6 674,2533.1C681.5,2531.6 689.1,2527.3 696.6,2526.9C704.1,2526.4 711.6,2528.9 719.1,2530.4C726.6,2531.9 734.1,2534.3 741.6,2535.8C749.1,2537.3 757.6,2537.6 764.1,2539.4C770.6,2541.2 772.4,2542 780.6,2546.5C788.9,2551 802.9,2562.6 813.7,2566.2C824.4,2569.7 835.4,2566.8 845.2,2567.9C854.9,2569.1 862.7,2571.2 872.2,2573.3C881.7,2575.4 893.2,2577.9 902.2,2580.4C911.2,2583 916.5,2587 926.3,2588.5C936,2590 950.5,2588.6 960.8,2589.4C971,2590.1 978.3,2591.2 987.8,2592.9C997.3,2594.7 1007.6,2598.9 1017.8,2600.1C1028.1,2601.3 1039.1,2600.4 1049.4,2600.1C1059.6,2599.8 1070.4,2597.4 1079.4,2598.3C1088.4,2599.2 1092.2,2604 1103.4,2605.5C1114.7,2606.9 1133.4,2606 1146.9,2607.2C1160.5,2608.4 1170.7,2610.5 1184.5,2612.6C1198.2,2614.7 1217,2618.8 1229.5,2619.7C1242,2620.6 1251.5,2619.7 1259.5,2618C1267.6,2616.2 1272.6,2613.2 1277.6,2609C1282.6,2604.9 1285.8,2601 1289.6,2592.9C1293.3,2584.9 1297.6,2578.1 1300.1,2560.8C1302.6,2543.5 1303.6,2513.2 1304.6,2489.4C1305.6,2465.5 1305.6,2438.8 1306.1,2417.9C1306.6,2397.1 1306.6,2381.6 1307.6,2364.3C1308.6,2347.1 1310.1,2326.8 1312.1,2314.3C1314.1,2301.8 1316.8,2294.7 1319.6,2289.3C1322.3,2284 1326.1,2281 1328.6,2282.2C1331.1,2283.4 1332.6,2287.2 1334.6,2296.5C1336.6,2305.7 1338.6,2323.3 1340.6,2337.6C1342.6,2351.8 1344.4,2367.3 1346.6,2382.2C1348.9,2397.1 1351.4,2412 1354.1,2426.9C1356.9,2441.7 1360.1,2459.6 1363.1,2471.5C1366.1,2483.4 1368.1,2489.4 1372.1,2498.3C1376.1,2507.2 1382.2,2519.1 1387.2,2525.1C1392.2,2531 1395.9,2532.8 1402.2,2534C1408.4,2535.2 1417.2,2533.7 1424.7,2532.2C1432.2,2530.7 1441,2525.7 1447.2,2525.1C1453.5,2524.5 1456,2526.6 1462.2,2528.7C1468.5,2530.7 1476.2,2535.2 1484.7,2537.6C1493.2,2540 1503.5,2540.9 1513.3,2542.9C1523,2545 1534,2547.4 1543.3,2550.1C1552.5,2552.8 1559.8,2556.6 1568.8,2559C1577.8,2561.4 1587.6,2562.9 1597.3,2564.4C1607.1,2565.9 1617.6,2565.6 1627.4,2567.9C1637.1,2570.3 1646.6,2576 1655.9,2578.7C1665.1,2581.3 1673.2,2583.1 1682.9,2584C1692.7,2584.9 1704.4,2583.1 1714.4,2584C1724.4,2584.9 1733.5,2588.2 1743,2589.4C1752.5,2590.6 1764.5,2590.9 1771.5,2591.2C1778.5,2591.5 1782.7,2591.2 1785,2591.2" fill="none" stroke="#428fc4" stroke-width="8" stroke-linecap="round" stroke-dasharray="0 15 29 15"/>
<path d="M283.7,2583.3C294.9,2584.7 328.4,2589 351,2591.9C373.5,2594.7 396.1,2597.4 418.8,2600.3C441.5,2603.1 470.5,2606.6 487,2608.8C503.4,2611.1 510.9,2613.4 517.6,2613.8C524.3,2614.3 524.1,2612.8 526.9,2611.7C529.7,2610.6 532.2,2609.5 534.6,2607.1C536.9,2604.6 538.6,2601 540.9,2597.1C543.1,2593.1 546.2,2588.3 548.2,2583.1C550.3,2578 551.8,2572.1 553.2,2566.2C554.6,2560.2 555.5,2556.6 556.6,2547.4C557.8,2538.2 558.7,2528 559.9,2510.8C561.1,2493.6 562.6,2468 563.8,2444.2C565.1,2420.3 566.3,2389.7 567.6,2367.6C568.9,2345.4 570.2,2324.2 571.5,2311.5C572.8,2298.7 573.8,2291.8 575.3,2290.9C576.7,2290.1 578.4,2295.6 580.4,2306.3C582.3,2317 584.5,2338.3 586.8,2354.9C589.2,2371.5 591.9,2390.9 594.5,2405.8C597,2420.7 599.1,2431.4 602.1,2444.2C605.1,2456.9 608.5,2471.6 612.3,2482.2C616.2,2492.8 620,2501.3 625.1,2507.9C630.2,2514.5 636.2,2518.9 643,2521.9C649.8,2524.8 657.9,2524.8 665.9,2525.6C674,2526.4 682.8,2525.6 691.3,2526.9C699.8,2528.1 708.3,2530.5 716.8,2533.3C725.3,2536.1 733.8,2540.1 742.3,2543.5C750.9,2546.9 761.6,2551.2 767.9,2553.7C774.1,2556.1 772.3,2556 780,2558.1C787.7,2560.2 802.8,2563.3 814.1,2566.3C825.4,2569.4 836.7,2573.1 848,2576.5C859.4,2579.9 870.8,2583.6 882.1,2586.7C893.5,2589.8 904.7,2592.7 916,2595.3C927.4,2597.8 938.8,2600.1 950.1,2602.1C961.5,2604 972.7,2606.2 984.1,2607.1C995.4,2607.9 1006.8,2607.6 1018.1,2607.1C1029.5,2606.5 1040.7,2605.1 1052.1,2603.7C1063.4,2602.3 1074.8,2600.1 1086.1,2598.7C1097.5,2597.3 1109.6,2595.5 1120.2,2595.3C1130.9,2595.1 1138.6,2595.2 1150,2597.4C1161.3,2599.6 1175.5,2605.3 1188.2,2608.7C1201,2612 1215,2615.7 1226.5,2617.6C1238,2619.5 1248.6,2620.5 1257.1,2620.1C1265.7,2619.6 1271.6,2618.8 1277.6,2614.9C1283.5,2611.1 1288.6,2606.4 1292.9,2597.1C1297.1,2587.7 1300.5,2576 1303.1,2559C1305.6,2542 1306.7,2518.5 1308.2,2495.1C1309.7,2471.7 1310.8,2444.1 1311.9,2418.6C1313.1,2393.1 1314,2363.3 1315.2,2342C1316.5,2320.7 1317.8,2296 1319.6,2290.9C1321.4,2285.8 1323.8,2298.7 1325.9,2311.5C1328,2324.2 1330,2349.7 1332.4,2367.6C1334.7,2385.4 1337.3,2403.8 1340,2418.6C1342.8,2433.5 1345.3,2444.9 1348.9,2456.9C1352.5,2468.8 1356.5,2480.3 1361.6,2490.1C1366.8,2499.8 1372.4,2509.5 1379.6,2515.4C1386.9,2521.4 1396.7,2523.7 1405.2,2525.6C1413.7,2527.6 1423.2,2526.6 1430.7,2527.2C1438.1,2527.9 1443.6,2528.5 1449.9,2529.5C1456.2,2530.6 1460,2530.8 1468.5,2533.3C1477,2535.8 1490,2540.2 1500.8,2544.5C1511.6,2548.9 1522.3,2554.6 1533.1,2559.2C1543.9,2563.8 1554.7,2568.3 1565.5,2572.1C1576.3,2575.8 1587,2578.6 1597.8,2581.9C1608.5,2585.1 1619.3,2588.8 1630.1,2591.5C1640.8,2594.2 1651.6,2596.1 1662.3,2597.9C1673.1,2599.8 1684,2601.7 1694.8,2602.8C1705.6,2603.8 1716.3,2604.2 1727,2604.4C1737.8,2604.5 1749.7,2604.1 1759.3,2603.7C1769,2603.3 1780.7,2602.3 1785,2602.1" fill="none" stroke="#5cb85c" stroke-width="8" stroke-linejoin="round"/>
<path d="M283.7,2114.2 V2649.9 H1785" fill="none" stroke="#000" stroke-width="2.2"/>
<path d="M268.2,2649.9H283.7M268.2,2471.5H283.7M268.2,2292.9H283.7M268.2,2114.3H283.7M253.7,2560.8H283.7M253.7,2382.2H283.7M253.7,2203.6H283.7M283.7,2649.9V2665.4M433.8,2649.9V2679.9M584,2649.9V2665.4M734.1,2649.9V2679.9M884.2,2649.9V2665.4M1034.3,2649.9V2679.9M1184.5,2649.9V2665.4M1334.6,2649.9V2679.9M1484.7,2649.9V2665.4M1634.9,2649.9V2679.9M1785,2649.9V2665.4" fill="none" stroke="#000" stroke-width="2.2"/>
<g font-family="'Liberation Serif', serif" font-size="66.5" fill="#000">
<text x="244.2" y="2224.8" text-anchor="end" font-size="69.5">0.2</text>
<text x="244.2" y="2403.4" text-anchor="end" font-size="69.5">0.1</text>
<text x="244.2" y="2582" text-anchor="end" font-size="69.5">0</text>
<text x="436.2" y="2735.5" text-anchor="middle" font-size="69.5">14</text>
<text x="736.5" y="2735.5" text-anchor="middle" font-size="69.5">16</text>
<text x="1036.8" y="2735.5" text-anchor="middle" font-size="69.5">18</text>
<text x="1337" y="2735.5" text-anchor="middle" font-size="69.5">20</text>
<text x="1637.3" y="2735.5" text-anchor="middle" font-size="69.5">22</text>
<text x="1034.3" y="2813.1" text-anchor="middle" font-size="65">t (s)</text>
<text transform="translate(97.4,2382.1) rotate(-90)" text-anchor="middle" font-size="67.8">η(m)</text>
<line x1="355" y1="2128.7" x2="422.7" y2="2128.7" stroke="#000" stroke-width="8" stroke-linecap="round" stroke-dasharray="0 11.2"/>
<line x1="348.9" y1="2207.7" x2="426.9" y2="2207.7" stroke="#e93323" stroke-width="8" stroke-dasharray="20 9.5"/>
<line x1="1090" y1="2128.7" x2="1150" y2="2128.7" stroke="#428fc4" stroke-width="8" stroke-linecap="round" stroke-dasharray="0 15 29 15"/>
<line x1="1080" y1="2207.7" x2="1159" y2="2207.7" stroke="#5cb85c" stroke-width="8"/>
<text x="452.2" y="2148.8" font-size="68" textLength="555.1" lengthAdjust="spacingAndGlyphs">Ting &amp; Kirby (1994)</text>
<text x="453.2" y="2227.4" font-size="68" textLength="408.8" lengthAdjust="spacingAndGlyphs">REEF3D::CFD</text>
<text x="1184.3" y="2148.8" font-size="68" textLength="503.3" lengthAdjust="spacingAndGlyphs">REEF3D::SFLOW</text>
<text x="1184.3" y="2227.4" font-size="68" textLength="440.0" lengthAdjust="spacingAndGlyphs">REEF3D::FNPF</text>
</g>
<text x="650.3" y="2961.4" font-family="'Liberation Serif', serif" font-size="77" textLength="79.8" lengthAdjust="spacingAndGlyphs">(<tspan font-weight="bold">c</tspan>)</text>
<text x="752.9" y="2961.4" font-family="'Liberation Serif', serif" font-size="77" textLength="180.3" lengthAdjust="spacingAndGlyphs">Wave</text>
<text x="949.8" y="2961.4" font-family="'Liberation Serif', serif" font-size="77" textLength="204.1" lengthAdjust="spacingAndGlyphs">gauge</text>
<text x="1169.1" y="2961.4" font-family="'Liberation Serif', serif" font-size="77" textLength="40" lengthAdjust="spacingAndGlyphs">3</text>
</g>
<g id="plot4">
<line x1="273" y1="3581.5" x2="1775" y2="3581.5" stroke="#000" stroke-width="4.9" stroke-linecap="round" stroke-dasharray="0 14.62"/>
<line x1="273" y1="3403.1" x2="1775" y2="3403.1" stroke="#000" stroke-width="4.9" stroke-linecap="round" stroke-dasharray="0 14.62"/>
<line x1="273" y1="3224.7" x2="1775" y2="3224.7" stroke="#000" stroke-width="4.9" stroke-linecap="round" stroke-dasharray="0 14.62"/>
<path d="M273,3617C281.5,3618.1 307,3621.8 324.1,3623.8C341.1,3625.7 355.3,3626.5 375.1,3628.8C395,3631 423.2,3635.3 443,3637.3C462.9,3639.3 478.2,3640.1 494.1,3640.7C510,3641.4 528,3643.8 538.3,3641.3C548.5,3638.7 551.4,3634.3 555.4,3625.4C559.4,3616.5 560.7,3604.2 562.1,3587.9C563.5,3571.7 563.4,3552.8 563.8,3528C564.2,3503.1 564.3,3464.3 564.7,3438.8C565,3413.2 564.4,3391.8 565.9,3374.7C567.3,3357.7 570.4,3344.6 573.4,3336.6C576.4,3328.5 580.8,3324.3 583.8,3326.4C586.8,3328.5 588.4,3334.8 591.4,3349.2C594.4,3363.6 598.2,3395.9 601.6,3412.9C605,3429.9 608.4,3440.2 611.9,3451.3C615.3,3462.3 618.7,3470.3 622.1,3479.3C625.5,3488.2 628.4,3496.4 632.3,3505C636.1,3513.5 639.9,3523.3 645,3530.5C650.2,3537.7 656.1,3544.3 662.9,3548.3C669.7,3552.3 677.7,3554.1 685.7,3554.6C693.8,3555 701.5,3551.9 711.3,3550.8C721.1,3549.8 733.8,3546.6 744.5,3548.3C755.1,3550 765.9,3557.2 775.1,3561C784.4,3564.8 790.2,3568.2 800.1,3571C809.9,3573.8 822.7,3574.9 834,3577.8C845.3,3580.6 856.8,3584.5 868.1,3587.9C879.4,3591.3 890.7,3595.7 902,3598.3C913.4,3600.8 924.8,3601.6 936.1,3603.3C947.5,3605 958.7,3607 970.1,3608.4C981.4,3609.9 992.8,3611 1004.2,3611.8C1015.5,3612.7 1026.8,3612.6 1038.1,3613.4C1049.4,3614.3 1060.7,3615.9 1072.1,3617C1083.4,3618.1 1094.8,3619.1 1106.2,3620.2C1117.5,3621.3 1128.8,3622.4 1140.1,3623.8C1151.4,3625.1 1164.2,3626.8 1174.2,3628.2C1184.2,3629.6 1191.3,3631 1200,3632.2C1208.8,3633.3 1214.6,3634.1 1226.6,3635C1238.7,3635.9 1259.7,3638.8 1272.4,3637.5C1285.2,3636.2 1295.8,3637.1 1303.1,3627.3C1310.3,3617.6 1313.5,3601.8 1315.8,3578.8C1318.2,3555.9 1316.6,3517.2 1317,3489.6C1317.5,3462 1317.7,3434.4 1318.4,3413.1C1319,3391.8 1319.2,3374.6 1320.9,3361.9C1322.6,3349.1 1325.4,3342.9 1328.6,3336.6C1331.8,3330.2 1336.6,3321.6 1340,3323.7C1343.4,3325.8 1346.3,3338.6 1349,3349.2C1351.8,3359.9 1354.1,3374.8 1356.7,3387.6C1359.2,3400.3 1361.8,3413 1364.4,3425.8C1366.9,3438.5 1369.5,3453.5 1372,3464.1C1374.6,3474.8 1376.7,3481.5 1379.7,3489.6C1382.7,3497.7 1386.5,3506.2 1389.9,3512.6C1393.3,3519 1395.3,3523.3 1400,3528C1404.6,3532.6 1411.9,3536.4 1417.8,3540.6C1423.8,3544.9 1427.2,3552 1435.5,3553.3C1443.9,3554.6 1458.9,3550.4 1468.1,3548.5C1477.4,3546.6 1483.3,3542.4 1490.8,3542.1C1498.4,3541.8 1505.3,3544.3 1513.4,3546.7C1521.4,3549.1 1530.6,3553.6 1539.2,3556.5C1547.7,3559.5 1556.1,3562.4 1564.7,3564.6C1573.4,3566.7 1582.3,3567.6 1591,3569.5C1599.7,3571.5 1608.2,3573.8 1616.8,3576C1625.5,3578.1 1634.2,3580.3 1642.8,3582.4C1651.4,3584.5 1658.7,3586.9 1668.4,3588.8C1678,3590.7 1690,3592.3 1700.8,3593.6C1711.6,3595 1722.2,3595.5 1732.9,3596.8C1743.7,3598.2 1758.4,3600.9 1765.4,3601.8C1772.4,3602.8 1773.4,3602.4 1775,3602.6" fill="none" stroke="#000" stroke-width="7.5" stroke-linecap="round" stroke-dasharray="0 11.2"/>
<path d="M273,3613.6C276.8,3613.2 286.8,3610.6 295.5,3610.9C304.3,3611.2 311.8,3612.3 325.6,3615.4C339.3,3618.5 363.1,3627.6 378.1,3629.7C393.2,3631.7 404.4,3627 415.7,3627.9C427,3628.8 437.7,3632 445.7,3635C453.7,3638 455,3644.5 463.8,3645.7C472.5,3646.9 487.5,3643.6 498.3,3642.2C509.1,3640.7 519.6,3640.4 528.3,3636.8C537.1,3633.2 545.4,3627 550.9,3620.7C556.4,3614.5 559.1,3611.8 561.4,3599.3C563.6,3586.9 563.8,3572.6 564.4,3545.8C565,3519.1 564.8,3468.5 565.1,3438.8C565.5,3409 565.4,3388.3 566.6,3367.4C567.8,3346.5 570.3,3318.6 572.3,3313.5C574.4,3308.5 576.2,3328.1 578.7,3337.1C581.1,3346.1 584.3,3356.4 586.9,3367.4C589.5,3378.4 592.2,3391.8 594.4,3403.1C596.7,3414.4 598.4,3426 600.4,3435.2C602.5,3444.4 604.7,3450.4 606.7,3458.4C608.7,3466.4 609.9,3474.8 612.5,3483.4C615,3492 617.9,3502.7 622.1,3510.1C626.2,3517.6 631.7,3523.5 637.4,3528C643,3532.4 647.9,3535.1 656,3536.9C664.1,3538.7 676,3537.5 686,3538.7C696.1,3539.9 707.3,3542.3 716.1,3544C724.9,3545.8 729.9,3546.7 738.6,3549.4C747.4,3552.1 758.4,3556.2 768.7,3560.1C778.9,3564 790,3569.3 800.1,3572.6C810.1,3575.9 819,3577.3 828.7,3579.7C838.5,3582.1 848.8,3583.9 858.8,3586.9C868.8,3589.8 878.8,3594.9 888.8,3597.6C898.8,3600.2 908.8,3601.7 918.9,3602.9C928.9,3604.1 938.9,3603.5 948.9,3604.7C958.9,3605.9 968.9,3608.3 978.9,3610C989,3611.8 999,3614.5 1009,3615.4C1019,3616.3 1029,3615.7 1039,3615.4C1049,3615.1 1059,3613.6 1069.1,3613.6C1079.1,3613.6 1089.1,3613.6 1099.1,3615.4C1109.1,3617.2 1120.4,3621 1129.1,3624.3C1137.9,3627.6 1144.2,3632.9 1151.7,3635C1159.2,3637.1 1165.4,3636.2 1174.2,3636.8C1183,3637.4 1193,3638 1204.2,3638.6C1215.5,3639.2 1230.5,3640.4 1241.8,3640.4C1253.1,3640.4 1263.1,3640.1 1271.8,3638.6C1280.6,3637.1 1288.1,3636.5 1294.4,3631.5C1300.6,3626.4 1306.1,3616.6 1309.4,3608.3C1312.6,3599.9 1312.9,3600.8 1313.9,3581.5C1314.9,3562.2 1315,3522 1315.4,3492.3C1315.8,3462.6 1315.4,3425.4 1316.1,3403.1C1316.9,3380.8 1318,3368.9 1319.9,3358.5C1321.8,3348.1 1324.9,3342.1 1327.4,3340.7C1329.9,3339.2 1332.4,3343 1334.9,3349.6C1337.4,3356.1 1339.2,3366.5 1342.4,3379.9C1345.7,3393.3 1351.2,3416.2 1354.4,3429.9C1357.7,3443.5 1358.4,3451.8 1361.9,3462C1365.5,3472.1 1372.2,3481.7 1375.9,3490.9C1379.7,3500.1 1380.5,3510.1 1384.5,3517.3C1388.4,3524.5 1394.5,3531 1399.5,3534.2C1404.5,3537.5 1407,3536.5 1414.5,3536.9C1422,3537.3 1434.5,3537.5 1444.6,3536.9C1454.6,3536.3 1467.1,3531.8 1474.6,3533.3C1482.1,3534.8 1483.4,3542.8 1489.6,3545.8C1495.9,3548.8 1503.4,3548.2 1512.1,3551.2C1520.9,3554.1 1533.4,3559.5 1542.2,3563.7C1551,3567.8 1556,3572.6 1564.7,3576.1C1573.5,3579.7 1584.7,3582.7 1594.8,3585.1C1604.8,3587.4 1614.8,3590.3 1624.8,3590.4C1634.8,3590.6 1646.1,3586 1654.8,3586C1663.6,3586 1667.4,3587.6 1677.4,3590.4C1687.4,3593.2 1704.2,3599.3 1714.9,3602.9C1725.7,3606.5 1731.9,3610.9 1742,3611.8C1752,3612.7 1769.5,3608.9 1775,3608.3" fill="none" stroke="#e93323" stroke-width="8" stroke-dasharray="19.5 10"/>
<path d="M273,3617.2C279.3,3617.2 298,3616 310.6,3617.2C323.1,3618.4 335.6,3621.9 348.1,3624.3C360.6,3626.7 373.1,3630 385.6,3631.5C398.2,3632.9 410.7,3632 423.2,3633.2C435.7,3634.4 449.5,3637.4 460.8,3638.6C472,3639.8 482,3639.2 490.8,3640.4C499.6,3641.6 504.6,3644.8 513.3,3645.7C522.1,3646.6 536.4,3646.9 543.4,3645.7C550.4,3644.5 551.6,3643.3 555.4,3638.6C559.1,3633.8 563.7,3626.7 565.9,3617.2C568.1,3607.7 568.1,3602.3 568.6,3581.5C569.1,3560.7 568.7,3522 568.9,3492.3C569.1,3462.6 569.1,3425.4 569.6,3403.1C570.1,3380.8 570.5,3370.4 571.9,3358.5C573.3,3346.6 575.1,3338.2 577.9,3331.7C580.7,3325.3 585.9,3320.6 588.9,3320C591.9,3319.4 593.8,3324.3 595.9,3328.2C598.1,3332 599.4,3333.5 601.6,3343C603.9,3352.5 606.5,3368.3 609.3,3385.1C612.1,3401.9 614.3,3424.4 618.2,3443.8C622,3463.2 628.2,3485.3 632.3,3501.4C636.3,3517.5 638.5,3531.8 642.5,3540.6C646.4,3549.5 651.3,3551.8 656,3554.7C660.7,3557.7 665.6,3557.9 670.6,3558.3C675.6,3558.8 679.7,3559.2 686,3557.4C692.4,3555.6 702.3,3549.2 708.6,3547.6C714.8,3546 717.3,3547.3 723.6,3547.6C729.9,3547.9 738.6,3547.9 746.1,3549.4C753.6,3550.9 761.2,3554.4 768.7,3556.5C776.2,3558.6 784.9,3560.1 791.2,3561.9C797.4,3563.7 797.9,3564.6 806.2,3567.2C814.5,3569.9 831.5,3574.4 840.8,3577.9C850,3581.5 852.8,3586 861.8,3588.6C870.8,3591.3 885.3,3592.2 894.8,3594C904.3,3595.8 909.1,3597.6 918.9,3599.3C928.6,3601.1 943.6,3602.9 953.4,3604.7C963.2,3606.5 967.9,3609.2 977.4,3610C987,3610.9 1001,3608.6 1010.5,3610C1020,3611.5 1024.8,3617.5 1034.5,3619C1044.3,3620.5 1058.3,3618.4 1069.1,3619C1079.8,3619.6 1089.1,3621.6 1099.1,3622.5C1109.1,3623.4 1120.6,3623.7 1129.1,3624.3C1137.7,3624.9 1140.9,3625.8 1150.2,3626.1C1159.4,3626.4 1173.2,3624.6 1184.7,3626.1C1196.2,3627.6 1208.5,3632.6 1219.3,3635C1230,3637.4 1239.3,3639.2 1249.3,3640.4C1259.3,3641.6 1270.6,3643 1279.3,3642.2C1288.1,3641.3 1296.1,3640.7 1301.9,3635C1307.6,3629.4 1310.9,3620.2 1313.9,3608.3C1316.8,3596.4 1318.5,3588.9 1319.6,3563.7C1320.7,3538.4 1320.1,3487.8 1320.6,3456.6C1321.2,3425.4 1321.5,3397.2 1322.9,3376.3C1324.3,3355.5 1326.1,3342.4 1328.9,3331.7C1331.8,3321.1 1337,3312.3 1340,3312.3C1343,3312.3 1344.8,3322.6 1346.9,3331.7C1349.1,3340.9 1350.9,3355.5 1352.9,3367.4C1354.9,3379.3 1356.7,3391.2 1358.9,3403.1C1361.2,3415 1364,3426.9 1366.5,3438.8C1369,3450.7 1371.5,3464.1 1374,3474.5C1376.5,3484.9 1378.5,3492.3 1381.5,3501.2C1384.5,3510.1 1387.7,3519.4 1392,3528C1396.2,3536.6 1402,3547.8 1407,3553C1412,3558.2 1417,3558 1422,3559.2C1427,3560.4 1430.8,3561.7 1437,3560.1C1443.3,3558.5 1452.8,3551.8 1459.6,3549.4C1466.3,3547 1470.3,3545.2 1477.6,3545.8C1484.9,3546.4 1493.9,3550.3 1503.1,3553C1512.4,3555.6 1523.9,3560.1 1533.2,3561.9C1542.4,3563.7 1549.2,3561.6 1558.7,3563.7C1568.2,3565.7 1580.7,3570.8 1590.3,3574.4C1599.8,3577.9 1606.5,3582.4 1615.8,3585.1C1625.1,3587.7 1636.6,3588.9 1645.8,3590.4C1655.1,3591.9 1661.6,3591.9 1671.4,3594C1681.1,3596.1 1694.9,3600.5 1704.4,3602.9C1713.9,3605.3 1718.7,3606.8 1728.4,3608.3C1738.2,3609.7 1755.2,3611.5 1763,3611.8C1770.7,3612.1 1773,3610.3 1775,3610" fill="none" stroke="#428fc4" stroke-width="8" stroke-linecap="round" stroke-dasharray="0 15 29 15"/>
<path d="M273,3599.9C284.3,3601.6 318.4,3606.6 341,3610C363.7,3613.5 386.4,3617 409.1,3620.4C431.8,3623.8 458.6,3628.1 477.1,3630.6C495.6,3633.1 508.6,3634.9 520,3635.4C531.4,3635.8 539.8,3634.5 545.5,3633.2C551.1,3631.9 551.1,3630 553.9,3627.5C556.7,3625.1 559.1,3624.9 562.1,3618.6C565.2,3612.3 569.8,3601.4 572.3,3589.5C574.9,3577.7 575.8,3568.5 577.5,3547.6C579.2,3526.7 581.1,3490.8 582.6,3464.1C584,3437.4 585,3408.8 586.3,3387.6C587.6,3366.3 589.1,3347 590.2,3336.6C591.3,3326.1 591.5,3324.1 592.8,3325C594,3325.8 595.8,3331.1 597.7,3341.6C599.6,3352 601.8,3371.4 604.2,3387.6C606.5,3403.8 609.3,3423.7 611.9,3438.6C614.4,3453.5 616.5,3464.9 619.5,3476.8C622.5,3488.7 625.9,3500.6 629.7,3510C633.6,3519.3 637.4,3527 642.5,3533C647.6,3538.9 653.2,3543.1 660.4,3545.6C667.6,3548.2 677.3,3547.7 685.7,3548.3C694.2,3549 702.8,3548.5 711.3,3549.6C719.8,3550.6 728.3,3552.2 736.8,3554.6C745.3,3556.9 753.8,3560.4 762.4,3563.7C770.9,3566.9 781.6,3571.5 787.9,3573.8C794.2,3576.2 792.4,3575.9 800.1,3577.9C807.7,3580 822.7,3583.2 834,3586.3C845.3,3589.4 856.8,3593.1 868.1,3596.5C879.4,3599.9 890.7,3603.5 902,3606.7C913.4,3609.8 924.8,3612.7 936.1,3615.2C947.5,3617.8 958.7,3619.8 970.1,3622C981.4,3624.2 992.8,3626.8 1004.2,3628.2C1015.5,3629.7 1026.8,3630.4 1038.1,3630.6C1049.4,3630.7 1060.7,3630.1 1072.1,3629C1083.4,3627.8 1094.8,3625.5 1106.2,3623.8C1117.5,3622.1 1129.9,3619.8 1140.1,3618.6C1150.3,3617.4 1157.3,3615.9 1167.4,3616.5C1177.6,3617.1 1189.1,3619.3 1201.1,3622.2C1213.1,3625.1 1227.3,3630.8 1239.2,3633.8C1251.1,3636.7 1263.5,3639.1 1272.4,3640C1281.4,3641 1287.3,3641.6 1292.9,3639.5C1298.4,3637.4 1301.8,3633.2 1305.6,3627.3C1309.5,3621.5 1312.9,3614.5 1315.8,3604.3C1318.8,3594.1 1321.4,3585.3 1323.5,3566.2C1325.6,3547 1327.1,3517.3 1328.6,3489.6C1330.1,3462 1331.2,3425.8 1332.4,3400.2C1333.5,3374.7 1334.6,3349.7 1335.7,3336.6C1336.7,3323.4 1337.4,3320.4 1338.8,3321.2C1340.2,3322 1342,3330.5 1343.9,3341.6C1345.8,3352.6 1347.9,3371.4 1350.2,3387.6C1352.6,3403.8 1355.1,3422.9 1357.9,3438.6C1360.7,3454.3 1363.3,3468.8 1366.9,3482C1370.5,3495.1 1375,3508.7 1379.7,3517.6C1384.3,3526.6 1388.5,3531 1394.8,3535.5C1401.2,3539.9 1409.9,3542.3 1417.8,3544.4C1425.7,3546.4 1432.8,3546.3 1442.3,3547.8C1451.8,3549.3 1463.8,3550.5 1474.6,3553.3C1485.4,3556.1 1496.1,3560.5 1506.9,3564.6C1517.7,3568.6 1528.4,3573.5 1539.2,3577.6C1550,3581.6 1560.7,3585.3 1571.5,3588.8C1582.2,3592.3 1593,3595.2 1603.8,3598.4C1614.6,3601.7 1625.5,3605.3 1636.2,3608.3C1647,3611.2 1657.6,3613.9 1668.4,3616.3C1679.1,3618.7 1690,3621 1700.8,3622.7C1711.6,3624.4 1720.6,3625.7 1732.9,3626.6C1745.3,3627.6 1768,3628.3 1775,3628.6" fill="none" stroke="#5cb85c" stroke-width="8" stroke-linejoin="round"/>
<path d="M273,3135.6 V3671.5 H1775" fill="none" stroke="#000" stroke-width="2.2"/>
<path d="M257.5,3671.5H273M257.5,3492.3H273M257.5,3313.9H273M257.5,3135.5H273M243,3581.5H273M243,3403.1H273M243,3224.7H273M273,3671.5V3687M423.2,3671.5V3701.5M573.4,3671.5V3687M723.6,3671.5V3701.5M873.8,3671.5V3687M1024,3671.5V3701.5M1174.2,3671.5V3687M1324.4,3671.5V3701.5M1474.6,3671.5V3687M1624.8,3671.5V3701.5M1775,3671.5V3687" fill="none" stroke="#000" stroke-width="2.2"/>
<g font-family="'Liberation Serif', serif" font-size="66.5" fill="#000">
<text x="233.5" y="3245.9" text-anchor="end" font-size="69.5">0.2</text>
<text x="233.5" y="3424.3" text-anchor="end" font-size="69.5">0.1</text>
<text x="233.5" y="3602.7" text-anchor="end" font-size="69.5">0</text>
<text x="425.6" y="3757.1" text-anchor="middle" font-size="69.5">14</text>
<text x="726" y="3757.1" text-anchor="middle" font-size="69.5">16</text>
<text x="1026.4" y="3757.1" text-anchor="middle" font-size="69.5">18</text>
<text x="1326.8" y="3757.1" text-anchor="middle" font-size="69.5">20</text>
<text x="1627.2" y="3757.1" text-anchor="middle" font-size="69.5">22</text>
<text x="1024" y="3834.7" text-anchor="middle" font-size="65">t (s)</text>
<text transform="translate(86.7,3403.6) rotate(-90)" text-anchor="middle" font-size="67.8">η(m)</text>
<line x1="344.3" y1="3150.1" x2="412" y2="3150.1" stroke="#000" stroke-width="8" stroke-linecap="round" stroke-dasharray="0 11.2"/>
<line x1="338.2" y1="3229.1" x2="416.2" y2="3229.1" stroke="#e93323" stroke-width="8" stroke-dasharray="20 9.5"/>
<line x1="1079.3" y1="3150.1" x2="1139.3" y2="3150.1" stroke="#428fc4" stroke-width="8" stroke-linecap="round" stroke-dasharray="0 15 29 15"/>
<line x1="1069.3" y1="3229.1" x2="1148.3" y2="3229.1" stroke="#5cb85c" stroke-width="8"/>
<text x="441.5" y="3170.2" font-size="68" textLength="555.1" lengthAdjust="spacingAndGlyphs">Ting &amp; Kirby (1994)</text>
<text x="442.5" y="3248.8" font-size="68" textLength="440.0" lengthAdjust="spacingAndGlyphs">REEF3D::FNPF</text>
<text x="1173.6" y="3170.2" font-size="68" textLength="440.0" lengthAdjust="spacingAndGlyphs">REEF3D::FNPF</text>
<text x="1173.6" y="3248.8" font-size="68" textLength="440.0" lengthAdjust="spacingAndGlyphs">REEF3D::FNPF</text>
</g>
<text x="644.4" y="3981.4" font-family="'Liberation Serif', serif" font-size="77" textLength="90.4" lengthAdjust="spacingAndGlyphs">(<tspan font-weight="bold">d</tspan>)</text>
<text x="757.2" y="3981.4" font-family="'Liberation Serif', serif" font-size="77" textLength="180.3" lengthAdjust="spacingAndGlyphs">Wave</text>
<text x="956.9" y="3981.4" font-family="'Liberation Serif', serif" font-size="77" textLength="201.7" lengthAdjust="spacingAndGlyphs">gauge</text>
<text x="1174.9" y="3981.4" font-family="'Liberation Serif', serif" font-size="77" textLength="38" lengthAdjust="spacingAndGlyphs">4</text>
</g>
</svg></body></html>
